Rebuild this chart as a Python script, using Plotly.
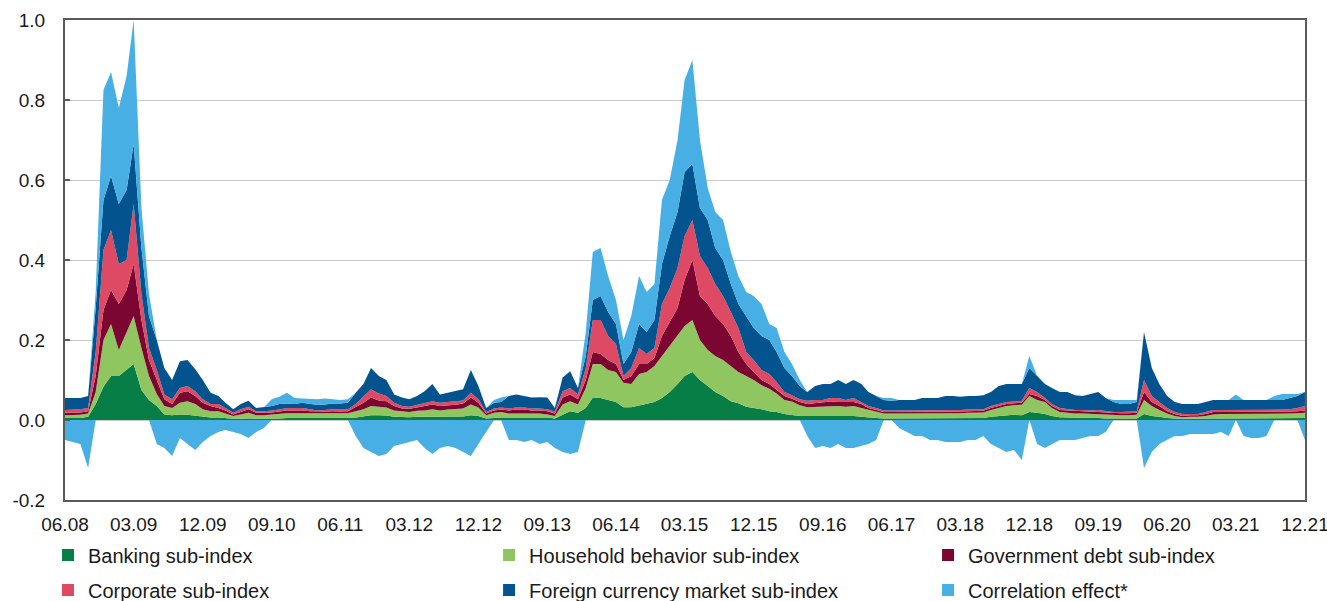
"""Stacked sub-index contributions with correlation effect (monthly, 06.08-12.21)."""
import numpy as np
import pandas as pd
import plotly.graph_objects as go

# ── Data: monthly contributions, Jun 2008 .. Dec 2021 (one row per year) ──────
months = pd.date_range("2008-06-01", "2021-12-01", freq="MS")

banking = [
    .005, .005, .005, .008, .04, .083, .11,
    .11, .125, .14, .075, .05, .035, .014, .012, .014, .013, .01, .008,
    .006, .006, .004, .003, .003, .004, .003, .003, .003, .004, .005, .005,
    .005, .004, .004, .004, .004, .004, .005, .006, .01, .012, .012, .011,
    .008, .007, .007, .008, .008, .008, .008, .008, .008, .009, .012, .01,
    .004, .006, .006, .006, .006, .006, .006, .006, .006, .004, .014, .022,
    .018, .03, .056, .055, .05, .045, .032, .032, .036, .04, .045, .055,
    .07, .09, .11, .12, .1, .085, .07, .06, .047, .042, .033, .03,
    .027, .022, .02, .015, .013, .01, .01, .01, .01, .01, .01, .01,
    .01, .008, .006, .005, .004, .004, .004, .004, .004, .004, .004, .004,
    .004, .004, .004, .004, .005, .005, .008, .01, .012, .013, .012, .02,
    .018, .015, .01, .007, .006, .006, .005, .005, .005, .004, .004, .004,
    .004, .004, .015, .01, .008, .005, .004, .003, .003, .003, .004, .004,
    .004, .004, .004, .004, .004, .004, .004, .004, .004, .004, .005, .005,
]
household = [
    .007, .007, .008, .008, .03, .117, .13,
    .065, .095, .12, .105, .06, .03, .021, .018, .029, .034, .03, .019,
    .016, .016, .012, .007, .011, .014, .009, .009, .011, .012, .012, .012,
    .012, .013, .012, .012, .013, .012, .012, .016, .017, .023, .021, .02,
    .016, .014, .013, .015, .016, .019, .016, .018, .019, .02, .027, .021,
    .008, .012, .014, .01, .01, .01, .01, .01, .008, .006, .025, .025,
    .021, .05, .084, .085, .075, .075, .061, .058, .079, .08, .09, .105,
    .115, .12, .125, .13, .1, .09, .09, .09, .088, .078, .077, .07,
    .06, .056, .046, .035, .033, .027, .022, .023, .023, .025, .025, .023,
    .025, .022, .019, .015, .012, .012, .012, .012, .012, .012, .012, .013,
    .013, .013, .013, .014, .013, .014, .017, .02, .023, .024, .026, .04,
    .032, .03, .02, .013, .012, .01, .011, .01, .01, .009, .008, .008,
    .008, .009, .035, .025, .017, .011, .006, .004, .005, .005, .006, .01,
    .011, .011, .011, .011, .011, .011, .011, .011, .011, .012, .012, .013,
]
government = [
    .006, .006, .006, .006, .04, .075, .085,
    .115, .105, .13, .07, .04, .035, .017, .01, .025, .025, .02, .016,
    .013, .008, .008, .004, .006, .009, .006, .006, .005, .005, .007, .007,
    .007, .005, .005, .005, .005, .005, .005, .01, .016, .021, .016, .016,
    .011, .008, .008, .008, .011, .012, .011, .01, .011, .012, .017, .012,
    .004, .006, .006, .008, .01, .01, .008, .008, .008, .006, .017, .017,
    .013, .02, .03, .025, .025, .02, .007, .02, .025, .02, .02, .05,
    .06, .07, .115, .15, .11, .115, .1, .09, .075, .05, .03, .02,
    .013, .012, .009, .01, .007, .008, .008, .009, .01, .011, .01, .012,
    .01, .01, .005, .005, .004, .004, .004, .004, .004, .004, .004, .004,
    .004, .004, .004, .004, .004, .004, .005, .005, .005, .005, .005, .005,
    .01, .005, .005, .005, .006, .006, .005, .005, .005, .005, .005, .005,
    .005, .005, .02, .01, .01, .006, .005, .003, .004, .004, .005, .006,
    .005, .005, .005, .005, .005, .005, .005, .005, .005, .005, .005, .006,
]
corporate = [
    .007, .008, .008, .008, .06, .15, .15,
    .1, .075, .15, .065, .03, .025, .012, .012, .012, .013, .012, .009,
    .005, .01, .006, .004, .007, .006, .004, .004, .005, .005, .006, .006,
    .006, .005, .003, .004, .005, .005, .005, .008, .017, .021, .017, .013,
    .008, .006, .005, .007, .008, .008, .008, .009, .008, .008, .012, .009,
    .004, .005, .005, .005, .005, .005, .005, .005, .005, .005, .016, .016,
    .012, .03, .08, .085, .06, .05, .01, .02, .04, .025, .025, .08,
    .085, .1, .11, .1, .1, .09, .08, .07, .06, .06, .03, .03,
    .025, .025, .02, .01, .009, .007, .008, .008, .007, .009, .01, .005,
    .01, .005, .005, .005, .004, .004, .004, .004, .004, .004, .004, .004,
    .004, .004, .004, .004, .004, .004, .005, .005, .005, .004, .005, .015,
    .01, .005, .005, .005, .004, .003, .004, .004, .005, .004, .003, .003,
    .004, .004, .03, .015, .01, .008, .005, .005, .003, .003, .005, .005,
    .005, .005, .005, .005, .005, .005, .005, .005, .006, .006, .008, .011,
]
fx_market = [
    .03, .029, .028, .03, .11, .125, .135,
    .15, .175, .15, .115, .08, .075, .066, .048, .067, .065, .055, .048,
    .028, .02, .013, .009, .013, .015, .008, .01, .011, .014, .011, .01,
    .013, .013, .014, .014, .014, .015, .016, .028, .03, .053, .044, .04,
    .021, .021, .019, .022, .029, .043, .021, .023, .026, .028, .057, .033,
    .01, .014, .014, .031, .033, .029, .027, .028, .029, .009, .034, .042,
    .016, .03, .05, .06, .06, .05, .03, .04, .06, .055, .07, .1,
    .13, .14, .16, .14, .12, .12, .09, .09, .07, .06, .09, .08,
    .085, .085, .075, .06, .048, .033, .022, .035, .04, .035, .045, .04,
    .045, .045, .035, .03, .026, .024, .026, .026, .026, .031, .031, .03,
    .035, .035, .033, .034, .034, .035, .035, .045, .045, .044, .042, .05,
    .04, .035, .04, .04, .042, .037, .035, .041, .045, .033, .025, .02,
    .019, .023, .12, .07, .045, .03, .025, .025, .025, .025, .025, .025,
    .025, .025, .025, .025, .025, .025, .025, .025, .024, .028, .03, .035,
]
correlation = [
    -.05, -.055, -.06, -.12, .04, .275, .26,
    .24, .285, .31, .1, .055, -.06, -.07, -.09, -.045, -.06, -.075, -.055,
    -.04, -.03, -.025, -.03, -.035, -.045, -.03, -.02, .017, .018, .027, .015,
    .011, .012, .014, .015, .011, .009, .009, -.04, -.07, -.08, -.09, -.085,
    -.065, -.06, -.055, -.05, -.07, -.085, -.07, -.065, -.07, -.08, -.09, -.06,
    -.03, .007, .011, -.05, -.05, -.055, -.05, -.06, -.055, -.07, -.08, -.085,
    -.08, .06, .12, .12, .09, .06, .06, .09, .12, .1, .09, .16,
    .14, .18, .23, .26, .17, .08, .09, .1, .08, .07, .06, .08,
    .08, .04, .06, .04, .03, .015, -.04, -.07, -.065, -.07, -.06, -.07,
    -.07, -.065, -.06, -.05, .005, .007, -.02, -.03, -.04, -.04, -.05, -.05,
    -.055, -.055, -.055, -.05, -.05, -.04, -.06, -.07, -.08, -.075, -.1, .03,
    -.06, -.07, -.06, -.05, -.05, -.05, -.045, -.04, -.04, -.03, .005, .01,
    .01, .005, -.12, -.08, -.06, -.05, -.04, -.04, -.035, -.035, -.035, -.035,
    -.03, -.04, .014, -.04, -.045, -.045, -.04, .01, .015, .01, .005, -.05,
]

y_ticks  = [-0.2, 0.0, 0.2, 0.4, 0.6, 0.8, 1.0]
y_labels = ["-0.2", "0.0", "0.2", "0.4", "0.6", "0.8", "1.0"]

FONT = "Liberation Sans, Arial, sans-serif"
INK = "#1a1a1a"
FRAME = "#5a5a5a"

# (key, legend label, values, colour, legend id)
series = [
    ("bank", "Banking sub-index",                 banking,    "#067E45", "legend"),
    ("hh",   "Household behavior sub-index",      household,  "#90C65F", "legend2"),
    ("gov",  "Government debt sub-index",         government, "#7B0632", "legend3"),
    ("corp", "Corporate sub-index",               corporate,  "#DE4A64", "legend"),
    ("fx",   "Foreign currency market sub-index", fx_market,  "#03548E", "legend2"),
]
CORR_COLOR = "#47AFE3"

corr = np.asarray(correlation)
corr_pos = np.clip(corr, 0, None)
corr_neg = np.clip(corr, None, 0)

fig = go.Figure()

# ── Stacked positive areas ────────────────────────────────────────────────────
for key, name, vals, col, _ in series:
    fig.add_trace(go.Scatter(
        x=months, y=vals, name=name, stackgroup="pos",
        mode="lines", line=dict(width=0, color=col), fillcolor=col,
        legendgroup=key, showlegend=False,
        hovertemplate=f"{name}: %{{y:.3f}}<extra></extra>",
    ))
fig.add_trace(go.Scatter(
    x=months, y=corr_pos, name="Correlation effect*", stackgroup="pos",
    mode="lines", line=dict(width=0, color=CORR_COLOR), fillcolor=CORR_COLOR,
    legendgroup="corr", showlegend=False,
    hovertemplate="Correlation effect: %{y:.3f}<extra></extra>",
))
# negative correlation effect hangs below zero on its own
fig.add_trace(go.Scatter(
    x=months, y=corr_neg, name="Correlation effect*", fill="tozeroy",
    mode="lines", line=dict(width=0, color=CORR_COLOR), fillcolor=CORR_COLOR,
    legendgroup="corr", showlegend=False,
    hovertemplate="Correlation effect: %{y:.3f}<extra></extra>",
))

# ── Legend swatches (square markers, linked to the areas by legendgroup) ──────
legend_items = [(k, n, c, lg) for k, n, _, c, lg in series]
legend_items.append(("corr", "Correlation effect*", CORR_COLOR, "legend3"))
for key, name, col, lg in legend_items:
    fig.add_trace(go.Scatter(
        x=[None], y=[None], mode="markers", name=name,
        marker=dict(symbol="square", size=12, color=col),
        legendgroup=key, legend=lg, showlegend=True,
    ))

legend_style = dict(
    orientation="v", yanchor="top", xanchor="left", y=-0.074,
    font=dict(family=FONT, size=20, color=INK),
    bgcolor="rgba(0,0,0,0)", borderwidth=0,
    traceorder="grouped", tracegroupgap=6, itemclick="toggle",
)

fig.update_layout(
    width=1327, height=601,
    margin=dict(l=65, r=22, t=20, b=101, autoexpand=False),
    plot_bgcolor="white", paper_bgcolor="white",
    font=dict(family=FONT, size=19, color=INK),
    hovermode="x unified",
    legend=dict(legend_style, x=-0.0137),
    legend2=dict(legend_style, x=0.3420),
    legend3=dict(legend_style, x=0.6960),
    xaxis=dict(
        type="date",
        range=["2008-06-01", "2021-12-01 06:00"],
        tick0=months[0], dtick="M9", tickformat="%m.%y",
        showgrid=False, zeroline=False,
        showline=True, linecolor=FRAME, linewidth=2, mirror=True,
        ticks="", ticklabelstandoff=6, ticklabeloverflow="allow",
        tickfont=dict(family=FONT, size=19, color=INK),
    ),
    yaxis=dict(
        range=[-0.2, 1.0],
        tickvals=y_ticks, ticktext=y_labels,
        showgrid=True, gridcolor="#C9CDD1", gridwidth=1,
        zeroline=False,
        showline=True, linecolor=FRAME, linewidth=2, mirror=True,
        ticks="inside", ticklen=5, tickcolor=FRAME, tickwidth=1.5,
        ticklabelstandoff=14,
        tickfont=dict(family=FONT, size=19, color=INK),
    ),
)

# drop the page's default body margin so the 1327x601 figure fills the window
fig.write_html(
    "out.html",
    config={"displayModeBar": False},
    post_script="document.body.style.margin = '0';",
)
